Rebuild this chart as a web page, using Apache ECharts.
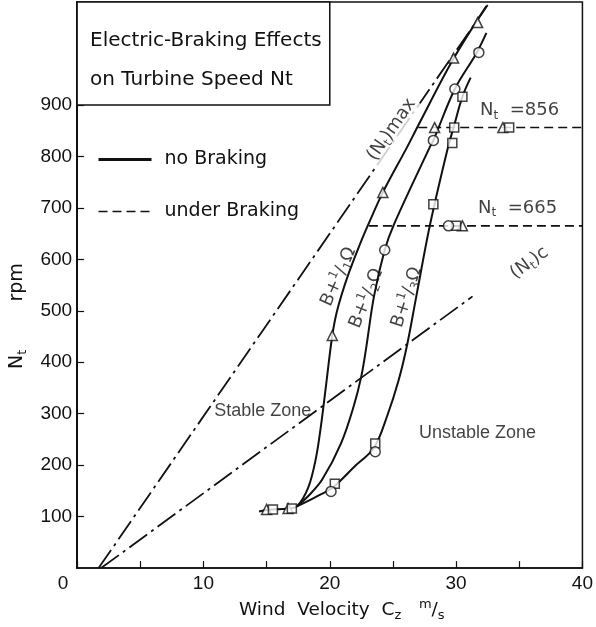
<!DOCTYPE html>
<html>
<head>
<meta charset="utf-8">
<script src="https://cdn.jsdelivr.net/npm/echarts@6/dist/echarts.min.js"></script>
<style>
  html, body { margin: 0; padding: 0; background: #fff; }
  #chart { width: 596px; height: 627px; }
</style>
</head>
<body>
<div id="chart"></div>
<script>
// Turbine speed Nt (rpm) against wind velocity Cz (m/s) for three braking resistances.
const brake1 = [[14.4,110],[15.0,113],[16.7,116],[17.4,120],[18.3,157],[18.9,213],[19.3,276],[19.7,354],[20.2,452],[20.6,502],[21.4,566],[22.4,630],[23.2,676],[24.2,730],[26.1,817],[27.0,860],[29.8,990],[32.4,1092]];
const brake2 = [[17.4,120],[18.3,140],[19.4,172],[20.9,243],[21.9,315],[22.5,373],[22.9,431],[23.5,528],[24.35,618],[25.1,669],[27.9,817],[28.2,831],[29.9,931],[31.6,1000],[32.4,1040]];
const brake3 = [[17.4,120],[18.8,137],[20.25,157],[21.9,196],[23.5,234],[24.55,296],[25.45,365],[26.1,431],[26.85,528],[27.95,669],[29.35,817],[29.8,856],[30.5,916],[31.15,953]];

// Limit lines
const ntMax = [[1.7,0],[32.5,1094]];
const ntC = [[1.9,0],[31.3,528]];

// Speeds held under braking
const held856 = [[27.0,856],[40,856]];
const held665 = [[23.1,665],[40,665]];

// Measured points
const trianglePts = [[15.0,114],[16.7,116],[20.2,452],[24.2,730],[28.3,856],[29.8,991],[31.7,1060],[33.7,856],[30.5,665]];
const squarePts = [[15.5,114],[17.0,116],[20.4,164],[23.6,242],[28.2,707],[29.7,826],[29.85,856],[30.5,916],[34.2,856],[30.0,665]];
const circlePts = [[20.1,149],[23.6,226],[24.35,618],[28.2,831],[29.9,931],[31.8,1002],[29.4,665]];

// Axis ticks
const xLabelValues = [0,10,20,30,40];
const yTickValues = [100,200,300,400,500,600,700,800,900];

const FONT = "'DejaVu Sans', sans-serif";
const NARROW = "'Liberation Sans', 'DejaVu Sans', sans-serif";
const INK = '#111';

const RICH = {
  n: { fontSize: 18, lineHeight: 22, fontFamily: FONT, color: INK },
  s: { fontSize: 12, verticalAlign: 'bottom', fontFamily: FONT, color: INK },
  p: { fontSize: 12, verticalAlign: 'top', fontFamily: FONT, color: INK },
  z: { fontSize: 18, lineHeight: 22, fontFamily: NARROW, color: INK }
};

// Text placed along the curves and in the zones (data coordinates)
const annotations = [
  { at: [24.9, 852], text: '{n|(N}{s|t}{n|)max}', rotate: 55, bg: true },
  { at: [35.8, 593], text: '{n|(N}{s|t}{n|)c}', rotate: 36 },
  { at: [20.7, 566], text: '{n|B+}{p|1}{n|/}{s|1}{n|Ω}', rotate: 66 },
  { at: [22.9, 524], text: '{n|B+}{p|1}{n|/}{s|2}{n|Ω}', rotate: 68 },
  { at: [26.1, 526], text: '{n|B+}{p|1}{n|/}{s|3}{n|Ω}', rotate: 72 },
  { at: [14.7, 305], text: '{z|Stable Zone}', rotate: 0 },
  { at: [31.7, 263], text: '{z|Unstable Zone}', rotate: 0 },
  { at: [31.86, 889], text: '{n|N}{s|t}{n|  =856}', rotate: 0, left: true },
  { at: [31.7, 700], text: '{n|N}{s|t}{n|  =665}', rotate: 0, left: true }
];

const solid = { color: INK, width: 2 };
const dashDot = { color: INK, width: 1.8, type: [22, 5, 3, 5] };
const dashed = { color: INK, width: 1.6, type: [9, 5] };

function curve(name, data, style, extra) {
  return Object.assign({
    name: name, type: 'line', data: data, symbol: 'none', smooth: 0.35,
    lineStyle: style, itemStyle: { color: INK }, silent: true, animation: false, z: 3
  }, extra || {});
}

function markers(symbol, size, data) {
  return {
    type: 'scatter', data: data, symbol: symbol, symbolSize: size, z: 4,
    itemStyle: { color: '#fff', borderColor: INK, borderWidth: 1.5 },
    silent: true, animation: false
  };
}

const chart = echarts.init(document.getElementById('chart'), null, { renderer: 'canvas' });

chart.setOption({
  animation: false,
  backgroundColor: '#fff',
  textStyle: { fontFamily: FONT, color: INK },
  title: {
    text: 'Electric-Braking Effects\non Turbine Speed Nt',
    left: 90, top: 21, padding: 0,
    textStyle: { fontFamily: FONT, fontSize: 20, fontWeight: 'normal', lineHeight: 39, color: INK }
  },
  legend: {
    orient: 'vertical', left: 97, top: 150, padding: 0,
    itemWidth: 53, itemHeight: 18, itemGap: 33,
    selectedMode: false,
    itemStyle: { opacity: 0 },
    textStyle: { fontFamily: FONT, fontSize: 19, color: INK, lineHeight: 18, padding: [0, 0, 0, 8] },
    data: [
      { name: 'no Braking', lineStyle: { width: 3 } },
      { name: 'under Braking', lineStyle: { width: 1.6 } }
    ]
  },
  grid: {
    left: 73, right: 12, top: 2, bottom: 54,
    show: true, borderColor: INK, borderWidth: 1.5, backgroundColor: 'transparent'
  },
  xAxis: {
    type: 'value', min: 0, max: 40, interval: 5,
    axisLine: { lineStyle: { color: INK, width: 1.5 } },
    axisTick: { inside: true, length: 7, lineStyle: { color: INK, width: 1.2 } },
    splitLine: { show: false },
    axisLabel: {
      margin: 6, color: INK, fontFamily: NARROW, fontSize: 19,
      formatter: v => xLabelValues.indexOf(v) < 0 ? '' : (v === 0 ? '{o|0}' : String(v)),
      rich: { o: { fontFamily: NARROW, fontSize: 19, color: INK, padding: [0, 28, 0, 0] } }
    },
    name: '{n|Wind  Velocity  C}{s|z}{n|   }{p|m}{n|/}{s|s}',
    nameLocation: 'middle', nameGap: 25,
    nameTextStyle: {
      padding: [0, 0, 0, 24],
      rich: {
        n: { fontFamily: FONT, fontSize: 18.5, lineHeight: 24, color: INK },
        s: { fontFamily: FONT, fontSize: 13, verticalAlign: 'bottom', color: INK },
        p: { fontFamily: FONT, fontSize: 13, verticalAlign: 'top', color: INK }
      }
    }
  },
  yAxis: {
    type: 'value', min: 0, max: 1100, interval: 100,
    axisLine: { lineStyle: { color: INK, width: 2 } },
    axisTick: { inside: true, length: 7, customValues: yTickValues, lineStyle: { color: INK, width: 1.2 } },
    splitLine: { show: false },
    axisLabel: { margin: 5, color: INK, fontFamily: NARROW, fontSize: 19, customValues: yTickValues },
    name: '{n|N}{s|t}{g| }{n|rpm}',
    nameLocation: 'middle', nameRotate: 90, nameGap: 33,
    nameTextStyle: {
      padding: [0, 62, 0, 0],
      rich: {
        n: { fontFamily: FONT, fontSize: 19, lineHeight: 24, color: INK },
        s: { fontFamily: FONT, fontSize: 13, verticalAlign: 'bottom', color: INK },
        g: { width: 48 }
      }
    }
  },
  series: [
    curve('no Braking', brake1, solid),
    curve('no Braking', brake2, solid),
    curve('no Braking', brake3, solid),
    curve('under Braking', held856, dashed, { smooth: false }),
    curve('under Braking', held665, dashed, { smooth: false }),
    curve('(Nt)max', ntMax, dashDot, {
      smooth: false, z: 2,
      markArea: {
        silent: true,
        itemStyle: { color: '#fff', borderColor: INK, borderWidth: 1.5 },
        data: [[{ coord: [0, 900] }, { coord: [20, 1100] }]]
      }
    }),
    curve('(Nt)c', ntC, dashDot, { smooth: false, z: 2 }),
    markers('triangle', 10, trianglePts),
    markers('rect', 9, squarePts),
    markers('circle', 10, circlePts),
    {
      type: 'scatter', symbol: 'circle', symbolSize: 1, z: 6, silent: true, animation: false,
      itemStyle: { color: 'rgba(0,0,0,0)' },
      label: {
        show: true, position: 'inside', color: INK, fontFamily: FONT, fontSize: 18,
        formatter: p => p.data.text, rich: RICH
      },
      data: annotations.map(a => ({
        value: a.at, text: a.text,
        label: Object.assign(
          { rotate: a.rotate },
          a.bg ? { backgroundColor: '#fff', padding: [0, 2] } : {},
          a.left ? { position: 'right', distance: 0 } : {}
        )
      }))
    }
  ]
});
</script>
</body>
</html>
